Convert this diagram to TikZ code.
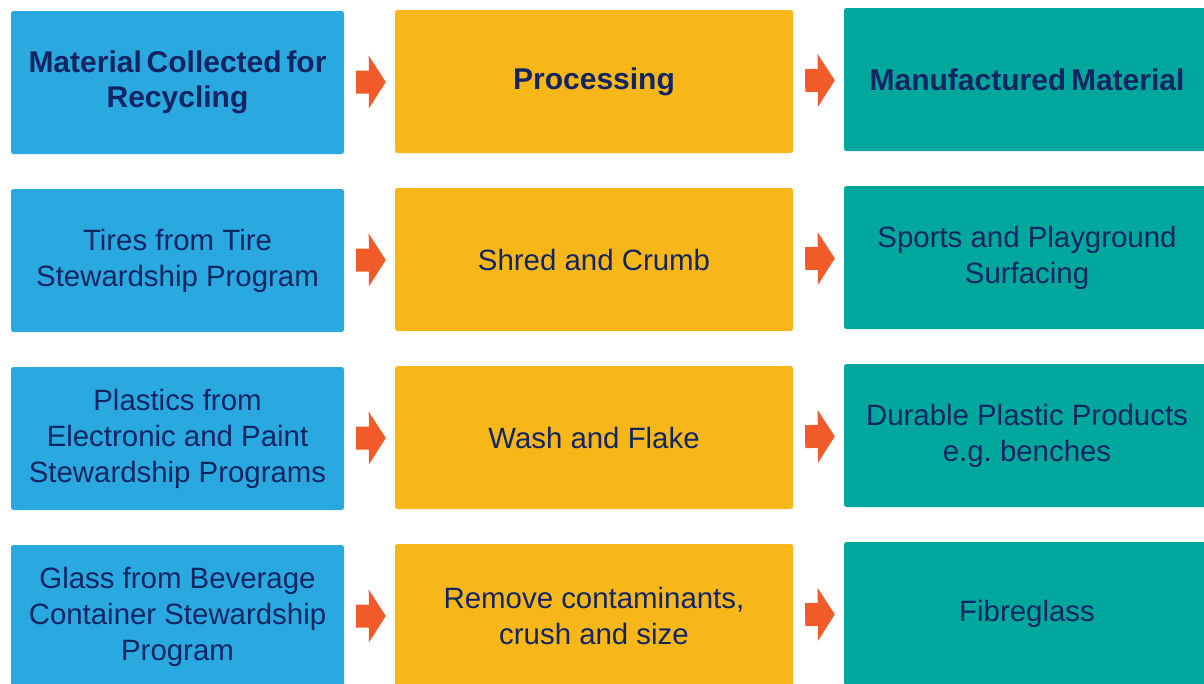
\documentclass[tikz,border=0pt]{standalone}
\usepackage{fontspec}
\setmainfont{Liberation Sans}
\usetikzlibrary{arrows.meta}

\definecolor{collectblue}{HTML}{2AA8E0}
\definecolor{processyellow}{HTML}{F8B719}
\definecolor{productteal}{HTML}{00A79D}
\definecolor{flowred}{HTML}{F15A29}
\definecolor{labelnavy}{HTML}{112562}

\newcommand\headtype{\fontsize{30}{35}\selectfont\bfseries\spaceskip 0.16em plus 0.05em\relax}

\tikzset{
  stage/.style={rectangle, rounded corners=2.5pt, inner sep=0pt, align=center,
    minimum height=143pt, text=labelnavy,
    font=\fontsize{29.4}{36}\selectfont\frenchspacing},
  collect/.style={stage, fill=collectblue, minimum width=333pt},
  process/.style={stage, fill=processyellow, minimum width=398pt},
  product/.style={stage, fill=productteal, minimum width=366pt},
  head/.style={font=\headtype},
}

\begin{document}
\begin{tikzpicture}[x=1pt,y=-1pt]

        \useasboundingbox (0,0) rectangle (1204,683);
        \clip (0,0) rectangle (1204,683);

        \begin{scope}
          \node[collect,head] (m1) at (177.5,82.5)  {Material Collected for\\Recycling};
          \node[collect] (m2) at (177.5,260.5) {Tires from Tire\\Stewardship Program};
          \node[collect] (m3) at (177.5,438.5) {Plastics from\\Electronic and Paint\\Stewardship Programs};
          \node[collect] (m4) at (177.5,616.5) {Glass from Beverage\\Container Stewardship\\Program};
          \node[process,head] (p1) at (594,81.5)  {Processing};
          \node[process] (p2) at (594,259.5) {Shred and Crumb};
          \node[process] (p3) at (594,437.5) {Wash and Flake};
          \node[process] (p4) at (594,615.5) {Remove contaminants,\\crush and size};
          \node[product,head] (f1) at (1027,79.5)  {Manufactured Material};
          \node[product] (f2) at (1027,257.5) {Sports and Playground\\Surfacing};
          \node[product] (f3) at (1027,435.5) {Durable Plastic Products\\e.g. benches};
          \node[product] (f4) at (1027,613.5) {Fibreglass};
        \end{scope}

        \begin{scope}[every edge/.style={draw=flowred, line width=23pt,
            shorten <=12pt, shorten >=9pt,
            -{Triangle[length=17pt, width=52pt, fill=flowred]}}]
          \path (m1) edge (p1);
          \path (m2) edge (p2);
          \path (m3) edge (p3);
          \path (m4) edge (p4);
          \path (p1) edge (f1);
          \path (p2) edge (f2);
          \path (p3) edge (f3);
          \path (p4) edge (f4);
        \end{scope}

      \end{tikzpicture}
\end{document}
